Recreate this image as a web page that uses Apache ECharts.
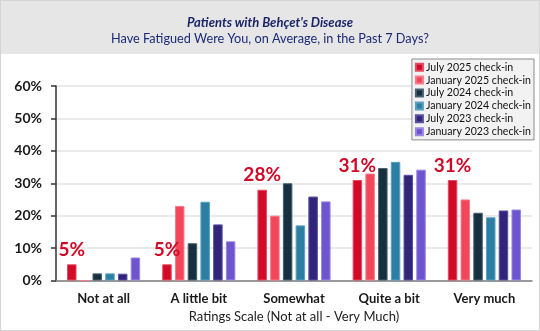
<!DOCTYPE html>
<html>
<head>
<meta charset="utf-8">
<script src="https://cdn.jsdelivr.net/npm/echarts@6/dist/echarts.min.js"></script>
<style>
  html, body { margin: 0; padding: 0; background: #fff; }
  #chart { width: 538px; height: 329px; border: 1px solid #d4d4d4; }
</style>
</head>
<body>
<div id="chart"></div>
<script>
// Fatigue ratings by survey check-in (percent of respondents)
const categories = ['Not at all', 'A little bit', 'Somewhat', 'Quite a bit', 'Very much'];
const seriesNames = [
  'July 2025 check-in',
  'January 2025 check-in',
  'July 2024 check-in',
  'January 2024 check-in',
  'July 2023 check-in',
  'January 2023 check-in'
];
const july2025 = [5, 5, 28, 31, 31];
const jan2025  = [0, 23, 20, 33, 25];
const july2024 = [2.2, 11.5, 30, 34.7, 20.9];
const jan2024  = [2.2, 24.3, 17, 36.6, 19.5];
const july2023 = [2.1, 17.3, 25.9, 32.6, 21.6];
const jan2023  = [7.1, 12.1, 24.4, 34.2, 21.9];
const yTicks = [0, 10, 20, 30, 40, 50, 60];

const seriesValues = [july2025, jan2025, july2024, jan2024, july2023, jan2023];
const colors = ['#d10a28', '#f2475a', '#17303f', '#2d7ea3', '#30257a', '#6e55cf'];
const borders = ['#e8485f', '#f77a88', '#4a6070', '#5aa0c0', '#5a50a0', '#9a88e0'];
const FONT = 'Lato, "Open Sans", sans-serif';

const chart = echarts.init(document.getElementById('chart'));

const series = seriesValues.map((vals, i) => ({
  name: seriesNames[i],
  type: 'bar',
  data: vals,
  barWidth: 9.5,
  barGap: '34%',
  itemStyle: { color: colors[i], borderColor: borders[i], borderWidth: 1 },
  label: i === 0 ? {
    show: true,
    position: 'top',
    distance: 5,
    formatter: p => Math.round(p.value) + '%',
    color: '#d10a28',
    fontFamily: FONT,
    fontWeight: 'bold',
    fontSize: 19
  } : { show: false }
}));

chart.setOption({
  animation: false,
  backgroundColor: '#ffffff',
  graphic: [{
    type: 'rect',
    left: 0, top: 0,
    shape: { width: 540, height: 53 },
    style: { fill: '#e6e6e6' },
    silent: true,
    z: -10
  }],
  title: {
    text: "Patients with Behçet's Disease",
    subtext: 'Have Fatigued Were You, on Average, in the Past 7 Days?',
    left: 'center',
    top: 10,
    itemGap: 3,
    textStyle: { fontFamily: FONT, fontSize: 13, fontWeight: 'bold', fontStyle: 'italic', color: '#1c2469' },
    subtextStyle: { fontFamily: FONT, fontSize: 12.7, color: '#1c2a78' }
  },
  legend: {
    orient: 'vertical',
    right: 5,
    top: 58,
    data: seriesNames,
    backgroundColor: '#f2f2f2',
    borderColor: '#8a8a8a',
    borderWidth: 1,
    padding: [2, 3, 2, 3],
    itemWidth: 7,
    itemHeight: 7,
    itemGap: 0.5,
    icon: 'rect',
    textStyle: { fontFamily: FONT, fontSize: 10.6, lineHeight: 12.4, color: '#111', padding: [0, 0, 0, -2] }
  },
  grid: { left: 55, right: 7, top: 85, bottom: 49.5, containLabel: false, outerBoundsMode: 'none' },
  xAxis: {
    type: 'category',
    data: categories,
    name: 'Ratings Scale (Not at all - Very Much)',
    nameLocation: 'middle',
    nameGap: 29,
    nameTextStyle: { fontFamily: FONT, fontSize: 13, color: '#222' },
    axisLine: { lineStyle: { color: '#7f7f7f', width: 1.5 } },
    axisTick: { show: false },
    axisLabel: { fontFamily: FONT, fontSize: 13, fontWeight: 'bold', color: '#1a1a1a', margin: 12 }
  },
  yAxis: {
    type: 'value',
    min: yTicks[0],
    max: yTicks[yTicks.length - 1],
    interval: 10,
    axisLine: { show: true, lineStyle: { color: '#333', width: 1.5 } },
    axisTick: { show: true, inside: false, length: 5, lineStyle: { color: '#333', width: 1.5 } },
    axisLabel: { fontFamily: FONT, fontSize: 14, fontWeight: 'bold', color: '#1a1a1a', formatter: '{value}%', margin: 14 },
    splitLine: { lineStyle: { color: '#e3e3e3', width: 1.5 } }
  },
  series: series
});
</script>
</body>
</html>
